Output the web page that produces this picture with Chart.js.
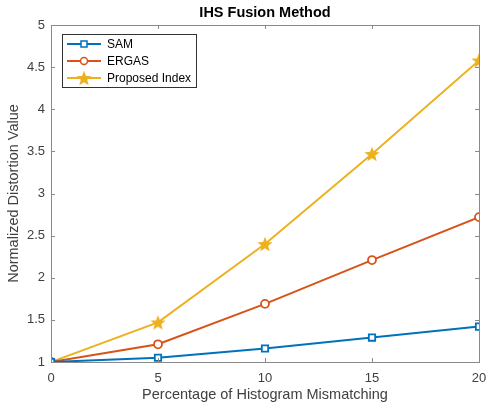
<!DOCTYPE html>
<html>
<head>
<meta charset="utf-8">
<script src="https://cdn.jsdelivr.net/npm/chart.js@4/dist/chart.umd.min.js"></script>
<style>
  html, body { margin: 0; padding: 0; background: #fff; }
  #wrap { width: 489px; height: 409px; }
</style>
</head>
<body>
<div id="wrap"><canvas id="myChart" width="489" height="409"></canvas></div>
<script>
const xValues = [0, 5, 10, 15, 20];
const samValues = [1.00, 1.05, 1.16, 1.29, 1.42];
const ergasValues = [1.00, 1.21, 1.69, 2.21, 2.72];
const proposedValues = [1.00, 1.47, 2.40, 3.47, 4.58];
const seriesNames = ["SAM", "ERGAS", "Proposed Index"];
const yTicks = [1, 1.5, 2, 2.5, 3, 3.5, 4, 4.5, 5];
const xTicks = [0, 5, 10, 15, 20];

const font = "'Liberation Sans', Arial, sans-serif";
const axisColor = "#8a8a8a";
const textColor = "#404040";

// filled star marker
function makeStar(color, r) {
    let c = document.createElement("canvas");
    c.width = r * 2 + 2;
    c.height = r * 2 + 2;
    let g = c.getContext("2d");
    g.beginPath();
    for (let i = 0; i < 10; i++) {
        let rad = i % 2 === 0 ? r : r * 0.42;
        let a = -Math.PI / 2 + i * Math.PI / 5;
        let px = r + 1 + rad * Math.cos(a);
        let py = r + 1 + 0.8 + rad * Math.sin(a);
        if (i === 0) g.moveTo(px, py); else g.lineTo(px, py);
    }
    g.closePath();
    g.fillStyle = color;
    g.fill();
    return c;
}
const star = makeStar("#EDB120", 8);

function pts(vals) {
    return vals.map((v, i) => ({ x: xValues[i], y: v }));
}

// box, inner ticks, title and legend
const matlabLook = {
    id: "matlabLook",
    afterDatasetsDraw(chart) {
        const ctx = chart.ctx;
        const a = chart.chartArea;
        const xs = chart.scales.x, ys = chart.scales.y;
        ctx.save();
        ctx.strokeStyle = axisColor;
        ctx.lineWidth = 1;
        ctx.strokeRect(a.left + 0.5, a.top + 0.5, a.right - a.left, a.bottom - a.top);
        ctx.beginPath();
        xTicks.forEach(t => {
            let px = Math.round(xs.getPixelForValue(t)) + 0.5;
            ctx.moveTo(px, a.bottom); ctx.lineTo(px, a.bottom - 4);
            ctx.moveTo(px, a.top); ctx.lineTo(px, a.top + 4);
        });
        yTicks.forEach(t => {
            let py = Math.round(ys.getPixelForValue(t)) + 0.5;
            ctx.moveTo(a.left, py); ctx.lineTo(a.left + 4, py);
            ctx.moveTo(a.right, py); ctx.lineTo(a.right - 4, py);
        });
        ctx.stroke();

        // title
        ctx.fillStyle = "#000";
        ctx.font = "bold 14.5px " + font;
        ctx.textAlign = "center";
        ctx.textBaseline = "middle";
        ctx.fillText("IHS Fusion Method", (a.left + a.right) / 2, 13);

        // legend
        let lx = a.left + 11, ly = a.top + 9, lw = 134, lh = 53;
        ctx.fillStyle = "#fff";
        ctx.fillRect(lx, ly, lw, lh);
        ctx.strokeStyle = "#333";
        ctx.strokeRect(lx + 0.5, ly + 0.5, lw, lh);
        chart.data.datasets.forEach((ds, i) => {
            let cy = ly + 10 + i * 17;
            ctx.strokeStyle = ds.borderColor;
            ctx.lineWidth = 2;
            ctx.beginPath();
            ctx.moveTo(lx + 5, cy); ctx.lineTo(lx + 39, cy);
            ctx.stroke();
            let mx = lx + 22;
            if (ds.pointStyle === "rect") {
                ctx.lineWidth = 1.5;
                ctx.fillStyle = "#fff";
                ctx.fillRect(mx - 3, cy - 3, 6, 6);
                ctx.strokeRect(mx - 3, cy - 3, 6, 6);
            } else if (ds.pointStyle === "circle") {
                ctx.lineWidth = 1.5;
                ctx.fillStyle = "#fff";
                ctx.beginPath();
                ctx.arc(mx, cy, 3.5, 0, Math.PI * 2);
                ctx.fill();
                ctx.stroke();
            } else {
                ctx.drawImage(star, mx - star.width / 2, cy - star.height / 2);
            }
            ctx.fillStyle = "#000";
            ctx.font = "12px " + font;
            ctx.textAlign = "left";
            ctx.fillText(ds.label, lx + 45, cy + 1);
        });
        ctx.restore();
    }
};

new Chart("myChart", {
    type: "line",
    data: {
        datasets: [{
            label: seriesNames[0],
            data: pts(samValues),
            borderColor: "#0072BD",
            backgroundColor: "#fff",
            borderWidth: 2,
            pointStyle: "rect",
            pointRadius: 4.5,
            pointBorderWidth: 1.8
        }, {
            label: seriesNames[1],
            data: pts(ergasValues),
            borderColor: "#D95319",
            backgroundColor: "#fff",
            borderWidth: 2,
            pointStyle: "circle",
            pointRadius: 4,
            pointBorderWidth: 1.8
        }, {
            label: seriesNames[2],
            data: pts(proposedValues),
            borderColor: "#EDB120",
            backgroundColor: "#EDB120",
            borderWidth: 2,
            pointStyle: star,
            pointRadius: 8
        }]
    },
    options: {
        responsive: false,
        animation: false,
        layout: { padding: { left: 0, right: 0, top: 25, bottom: 0 } },
        plugins: {
            legend: { display: false },
            title: { display: false },
            tooltip: { enabled: false }
        },
        scales: {
            x: {
                type: "linear",
                min: 0,
                max: 20,
                afterBuildTicks: s => { s.ticks = xTicks.map(v => ({ value: v })); },
                afterFit: s => { s.height = 47; s.paddingRight = 7; s.paddingLeft = 0; },
                grid: { display: false, drawTicks: false },
                border: { display: false },
                ticks: { padding: 9, color: textColor, font: { family: font, size: 13 }, callback: v => String(v) },
                title: {
                    display: true,
                    text: "Percentage of Histogram Mismatching",
                    color: textColor,
                    font: { family: font, size: 14.5 },
                    padding: { top: 0, bottom: 5 }
                }
            },
            y: {
                min: 1,
                max: 5,
                afterBuildTicks: s => { s.ticks = yTicks.map(v => ({ value: v })); },
                afterFit: s => { s.width = 51; },
                grid: { display: false, drawTicks: false },
                border: { display: false },
                ticks: { padding: 6, color: textColor, font: { family: font, size: 13 }, callback: v => String(v) },
                title: {
                    display: true,
                    text: "Normalized Distortion Value",
                    color: textColor,
                    font: { family: font, size: 14.5 },
                    padding: { top: 5, bottom: 0 }
                }
            }
        }
    },
    plugins: [matlabLook]
});
</script>
</body>
</html>
